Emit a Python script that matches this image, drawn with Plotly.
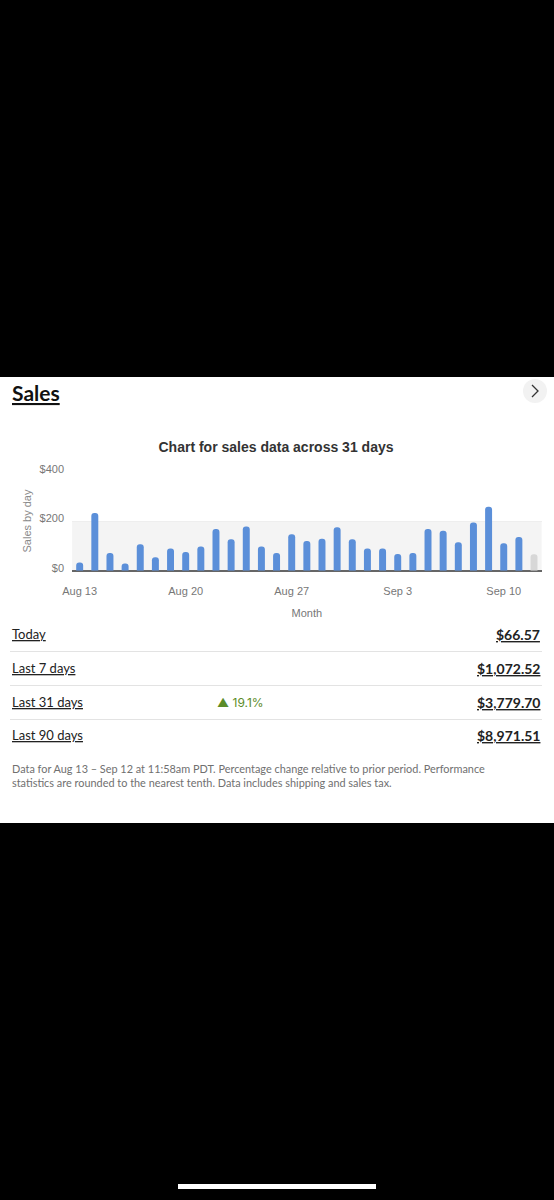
import plotly.graph_objects as go

# Daily sales, Aug 13 - Sep 12 (last day is today, still in progress)
days = [
    "Aug 13", "Aug 14", "Aug 15", "Aug 16", "Aug 17", "Aug 18", "Aug 19",
    "Aug 20", "Aug 21", "Aug 22", "Aug 23", "Aug 24", "Aug 25", "Aug 26",
    "Aug 27", "Aug 28", "Aug 29", "Aug 30", "Aug 31", "Sep 1", "Sep 2",
    "Sep 3", "Sep 4", "Sep 5", "Sep 6", "Sep 7", "Sep 8", "Sep 9",
    "Sep 10", "Sep 11", "Sep 12",
]
sales = [
    33, 234, 72, 29, 107, 55, 90,
    76, 98, 169, 127, 179, 98, 72,
    148, 120, 129, 176, 127, 90, 90,
    68, 72, 169, 162, 115, 195, 259,
    111, 137, 66.57,
]
tick_days = ["Aug 13", "Aug 20", "Aug 27", "Sep 3", "Sep 10"]
y_ticks = [0, 200, 400]
y_tick_text = ["$0", "$200", "$400"]

periods = ["Today", "Last 7 days", "Last 31 days", "Last 90 days"]
period_totals = ["$66.57", "$1,072.52", "$3,779.70", "$8,971.51"]
period_change = ["", "", "▲ 19.1%", ""]

footnote = ("Data for Aug 13 – Sep 12 at 11:58am PDT. Percentage change relative to prior period. Performance"
            "<br>statistics are rounded to the nearest tenth. Data includes shipping and sales tax.")

W, H = 554, 1200


def px(x):
    return x / W


def py(y):
    return 1 - y / H


BLUE = "#5b8fd9"
GREY_BAR = "#d7d7d7"
CHART_FONT = "Liberation Sans, Arial, sans-serif"
UI_FONT = "Lato, sans-serif"

colors = [BLUE] * (len(sales) - 1) + [GREY_BAR]

fig = go.Figure()
fig.add_trace(go.Bar(x=days, y=sales, marker=dict(color=colors, line=dict(width=0)),
                     hoverinfo="x+y"))

shapes = []
# white card
shapes.append(dict(type="rect", xref="paper", yref="paper", x0=0, x1=1, y0=py(823), y1=py(377),
                   fillcolor="white", line=dict(width=0), layer="below"))
# light band behind the bars ($0 - $200)
shapes.append(dict(type="rect", xref="x domain", yref="y", x0=0, x1=1, y0=0, y1=200,
                   fillcolor="#f4f4f4", line=dict(width=0), layer="below"))
# chevron button
shapes.append(dict(type="circle", xref="paper", yref="paper", x0=px(523), x1=px(547),
                   y0=py(403), y1=py(379), fillcolor="#f2f2f2", line=dict(width=0)))
shapes.append(dict(type="path", xref="paper", yref="paper",
                   path=f"M {px(532)} {py(385)} L {px(538)} {py(391)} L {px(532)} {py(397)}",
                   line=dict(color="#333", width=1.3)))
# row separators
for y in [651.5, 685.5, 719.5]:
    shapes.append(dict(type="line", xref="paper", yref="paper", x0=px(10), x1=px(542),
                       y0=py(y), y1=py(y), line=dict(color="#e3e3e3", width=1)))
# home indicator
shapes.append(dict(type="rect", xref="paper", yref="paper", x0=px(178), x1=px(376),
                   y0=py(1189), y1=py(1184), fillcolor="white", line=dict(width=0)))

annotations = []
annotations.append(dict(text="<b><u>Sales</u></b>", x=px(10), y=py(392), xref="paper", yref="paper",
                        xanchor="left", yanchor="middle", showarrow=False,
                        font=dict(family=UI_FONT, size=21, color="#111")))
annotations.append(dict(text="Sales by day", x=px(18), y=py(521.5), xref="paper", yref="paper",
                        textangle=-90, showarrow=False,
                        font=dict(family=CHART_FONT, size=11, color="#8a8a8a")))

row_y = [634, 668, 702, 735]
for label, total, change, y in zip(periods, period_totals, period_change, row_y):
    annotations.append(dict(text=f"<u>{label}</u>", x=px(10), y=py(y), xref="paper", yref="paper",
                            xanchor="left", yanchor="middle", showarrow=False,
                            font=dict(family=UI_FONT, size=13, color="#222")))
    annotations.append(dict(text=f"<b><u>{total}</u></b>", x=px(542), y=py(y), xref="paper",
                            yref="paper", xanchor="right", yanchor="middle", showarrow=False,
                            font=dict(family=UI_FONT, size=14, color="#222")))
    if change:
        annotations.append(dict(text=change, x=px(215), y=py(y), xref="paper", yref="paper",
                                xanchor="left", yanchor="middle", showarrow=False,
                                font=dict(family="Inter, sans-serif", size=12, color="#5b8c2a")))

annotations.append(dict(text=footnote, x=px(10), y=py(775), xref="paper", yref="paper",
                        xanchor="left", yanchor="middle", align="left", showarrow=False,
                        font=dict(family=UI_FONT, size=10.9, color="#707070")))

fig.update_layout(
    width=W, height=H,
    margin=dict(l=0, r=0, t=0, b=0),
    paper_bgcolor="black",
    plot_bgcolor="rgba(0,0,0,0)",
    showlegend=False,
    bargap=0.54,
    barcornerradius=3,
    title=dict(text="<b>Chart for sales data across 31 days</b>", x=px(276), xanchor="center",
               y=py(447), yanchor="middle",
               font=dict(family=CHART_FONT, size=14, color="#333")),
    xaxis=dict(domain=[px(72.1), px(541.6)], type="category", automargin=False,
               tickvals=tick_days, ticktext=tick_days, showgrid=False, ticks="",
               showline=False, zeroline=False, ticklabelstandoff=12,
               tickfont=dict(family=CHART_FONT, size=11, color="#777"),
               title=dict(text="Month", standoff=13,
                          font=dict(family=CHART_FONT, size=11, color="#777"))),
    yaxis=dict(domain=[py(570.7), py(472)], range=[0, 400], tickvals=y_ticks, automargin=False,
               ticktext=y_tick_text, showgrid=True, gridcolor="#eeeeee",
               zeroline=True, zerolinecolor="#666", zerolinewidth=1.5,
               ticks="", ticklabelstandoff=7, ticklabelshift=-3,
               tickfont=dict(family=CHART_FONT, size=11, color="#777")),
    shapes=shapes,
    annotations=annotations,
)

fig.write_html("out.html", config={"displayModeBar": False},
               post_script="document.body.style.margin='0';")
